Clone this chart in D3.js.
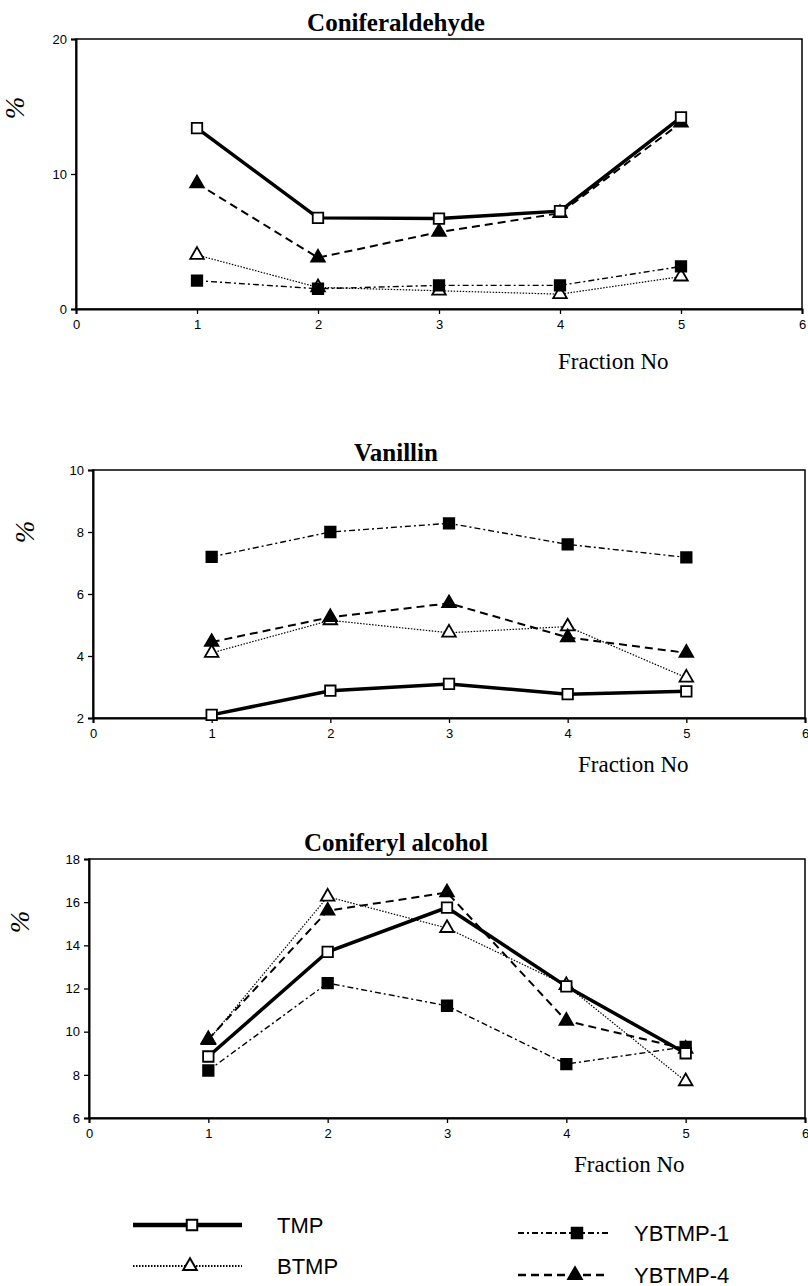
<!DOCTYPE html>
<html>
<head>
<meta charset="utf-8">
<script src="https://cdn.jsdelivr.net/npm/d3@7"></script>
<style>
  body { margin: 0; background: #fff; }
  svg text { fill: #000; }
</style>
</head>
<body>
<script>
// fraction numbers on the x axis
var fractions = [1, 2, 3, 4, 5];
var seriesNames = ["TMP", "BTMP", "YBTMP-1", "YBTMP-4"];

// Coniferaldehyde (%)
var coniferaldehydeTMP    = [13.4, 6.75, 6.7, 7.25, 14.2];
var coniferaldehydeBTMP   = [4.0, 1.6, 1.35, 1.1, 2.4];
var coniferaldehydeYBTMP1 = [2.1, 1.5, 1.75, 1.75, 3.15];
var coniferaldehydeYBTMP4 = [9.3, 3.8, 5.7, 7.1, 13.8];

// Vanillin (%)
var vanillinTMP    = [2.1, 2.88, 3.1, 2.77, 2.86];
var vanillinBTMP   = [4.1, 5.15, 4.75, 4.95, 3.3];
var vanillinYBTMP1 = [7.2, 8.0, 8.28, 7.6, 7.18];
var vanillinYBTMP4 = [4.45, 5.25, 5.7, 4.6, 4.1];

// Coniferyl alcohol (%)
var coniferylTMP    = [8.85, 13.7, 15.75, 12.1, 9.0];
var coniferylBTMP   = [9.6, 16.25, 14.8, 12.15, 7.7];
var coniferylYBTMP1 = [8.2, 12.25, 11.2, 8.5, 9.3];
var coniferylYBTMP4 = [9.65, 15.6, 16.45, 10.5, 9.2];

// tick labels
var xTicks = [0, 1, 2, 3, 4, 5, 6];
var coniferaldehydeTicks = [0, 10, 20];
var vanillinTicks = [2, 4, 6, 8, 10];
var coniferylTicks = [6, 8, 10, 12, 14, 16, 18];

// line style per series
var styles = {
  "TMP":     { width: 3.5, dash: null,      marker: "square",   fill: "#fff" },
  "BTMP":    { width: 1.2, dash: "1.5,1.5", marker: "triangle", fill: "#fff" },
  "YBTMP-1": { width: 1.4, dash: "6,3,2,3", marker: "square",   fill: "#000" },
  "YBTMP-4": { width: 2,   dash: "8,5",     marker: "triangle", fill: "#000" }
};

var panels = [
  { title: "Coniferaldehyde", ticks: coniferaldehydeTicks,
    values: [coniferaldehydeTMP, coniferaldehydeBTMP, coniferaldehydeYBTMP1, coniferaldehydeYBTMP4],
    left: 76, right: 802, top: 39, bottom: 309, titleY: 31, pctX: 18, pctY: 108, fracX: 558, fracY: 369 },
  { title: "Vanillin", ticks: vanillinTicks,
    values: [vanillinTMP, vanillinBTMP, vanillinYBTMP1, vanillinYBTMP4],
    left: 93, right: 805, top: 470, bottom: 718, titleY: 461, pctX: 28, pctY: 532, fracX: 578, fracY: 772 },
  { title: "Coniferyl alcohol", ticks: coniferylTicks,
    values: [coniferylTMP, coniferylBTMP, coniferylYBTMP1, coniferylYBTMP4],
    left: 89, right: 805, top: 859, bottom: 1118, titleY: 851, pctX: 23, pctY: 922, fracX: 574, fracY: 1172 }
];

var svg = d3.select("body").append("svg")
    .attr("width", 808)
    .attr("height", 1286);

function markerPath(kind) {
  if (kind === "square") return d3.symbol().type(d3.symbolSquare).size(110)();
  return d3.symbol().type(d3.symbolTriangle).size(80)();
}

panels.forEach(function(p) {
  var g = svg.append("g");
  var x = d3.scaleLinear().domain([0, 6]).range([p.left, p.right]);
  var y = d3.scaleLinear().domain([p.ticks[0], p.ticks[p.ticks.length - 1]]).range([p.bottom, p.top]);

  // frame
  g.append("rect")
      .attr("x", p.left).attr("y", p.top)
      .attr("width", p.right - p.left).attr("height", p.bottom - p.top)
      .attr("fill", "none").attr("stroke", "#000").attr("stroke-width", 1.5);

  var xAxis = g.append("g")
      .attr("transform", "translate(0," + p.bottom + ")")
      .call(d3.axisBottom(x).tickValues(xTicks).tickFormat(d3.format("d")).tickSize(5).tickPadding(6));
  var yAxis = g.append("g")
      .attr("transform", "translate(" + p.left + ",0)")
      .call(d3.axisLeft(y).tickValues(p.ticks).tickFormat(d3.format("d")).tickSize(5).tickPadding(4));
  [xAxis, yAxis].forEach(function(a) {
    a.select(".domain").attr("stroke-width", 2);
    a.selectAll(".tick line").attr("stroke-width", 1.3);
    a.selectAll("text").attr("font-family", "Liberation Sans, Arial, sans-serif").attr("font-size", 13);
  });

  g.append("text")
      .attr("x", 396).attr("y", p.titleY)
      .attr("text-anchor", "middle")
      .attr("font-family", "Liberation Serif, Times New Roman, serif")
      .attr("font-weight", "bold")
      .attr("font-size", 25)
      .text(p.title);

  g.append("text")
      .attr("transform", "translate(" + p.pctX + "," + p.pctY + ") rotate(-90)")
      .attr("text-anchor", "middle")
      .attr("dominant-baseline", "middle")
      .attr("font-family", "Liberation Serif, Times New Roman, serif")
      .attr("font-style", "italic")
      .attr("font-size", 27)
      .text("%");

  g.append("text")
      .attr("x", p.fracX).attr("y", p.fracY)
      .attr("font-family", "Liberation Serif, Times New Roman, serif")
      .attr("font-size", 23)
      .text("Fraction No");

  var line = d3.line()
      .x(function(d) { return x(d.f); })
      .y(function(d) { return y(d.v); });

  // draw TMP last so its squares stay on top
  [1, 2, 3, 0].forEach(function(si) {
    var name = seriesNames[si];
    var st = styles[name];
    var pts = fractions.map(function(f, i) { return { f: f, v: p.values[si][i] }; });
    g.append("path")
        .datum(pts)
        .attr("d", line)
        .attr("fill", "none")
        .attr("stroke", "#000")
        .attr("stroke-width", st.width)
        .attr("stroke-dasharray", st.dash);
    g.selectAll(".m" + si)
        .data(pts)
        .enter().append("path")
        .attr("transform", function(d) { return "translate(" + x(d.f) + "," + y(d.v) + ")"; })
        .attr("d", markerPath(st.marker))
        .attr("fill", st.fill)
        .attr("stroke", "#000")
        .attr("stroke-width", 1.8);
  });
});

// legend
var legendItems = [
  { name: "TMP",     x0: 133, x1: 242, mx: 192, y: 1225, tx: 277 },
  { name: "BTMP",    x0: 133, x1: 242, mx: 190, y: 1266, tx: 277 },
  { name: "YBTMP-1", x0: 518, x1: 610, mx: 577, y: 1233, tx: 634 },
  { name: "YBTMP-4", x0: 518, x1: 607, mx: 575, y: 1275, tx: 634 }
];
var legend = svg.append("g");
legendItems.forEach(function(it) {
  var st = styles[it.name];
  legend.append("line")
      .attr("x1", it.x0).attr("x2", it.x1)
      .attr("y1", it.y).attr("y2", it.y)
      .attr("stroke", "#000")
      .attr("stroke-width", st.width === 3.5 ? 4.5 : st.width + 0.6)
      .attr("stroke-dasharray", st.dash);
  legend.append("path")
      .attr("transform", "translate(" + it.mx + "," + it.y + ")")
      .attr("d", markerPath(st.marker))
      .attr("fill", st.fill)
      .attr("stroke", "#000")
      .attr("stroke-width", 2);
  legend.append("text")
      .attr("x", it.tx).attr("y", it.y)
      .attr("dominant-baseline", "central")
      .attr("font-family", "Liberation Sans, Arial, sans-serif")
      .attr("font-size", 22)
      .text(it.name);
});
</script>
</body>
</html>
